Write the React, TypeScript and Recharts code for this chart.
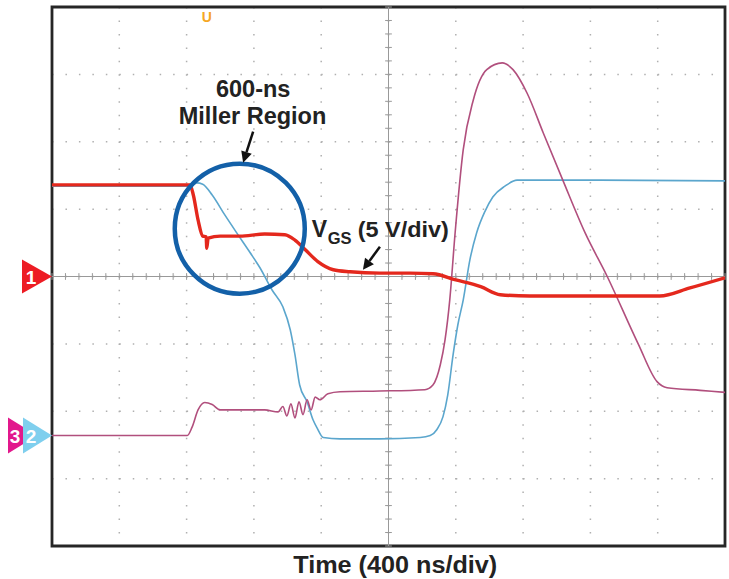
import React from 'react';
import {
  LineChart,
  Line,
  XAxis,
  YAxis,
  CartesianGrid,
  ReferenceLine,
  ReferenceDot,
  ReferenceArea,
} from 'recharts';

// Time in divisions (400 ns/div), amplitude in divisions
const vgsTrace: [number, number][] = [
  [0, 1.36], [1.01, 1.36], [2.05, 1.36], [2.1, 1.21], [2.17, 0.84], [2.24, 0.6],
  [2.29, 0.59], [2.3, 0.42], [2.32, 0.57], [2.5, 0.6], [2.79, 0.6], [3.16, 0.63],
  [3.46, 0.62], [3.61, 0.54], [3.76, 0.4], [3.95, 0.22], [4.18, 0.1], [4.43, 0.07],
  [4.87, 0.05], [5.32, 0.05], [5.66, 0.04], [6.0, -0.05], [6.37, -0.15], [6.66, -0.27],
  [7.1, -0.29], [8.14, -0.29], [9.03, -0.29], [9.48, -0.17], [10, -0.02],
];

const ch2Trace: [number, number][] = [
  [0, 1.34], [2.05, 1.34], [2.15, 1.39], [2.24, 1.37], [2.38, 1.21], [2.57, 0.91],
  [2.75, 0.64], [2.94, 0.36], [3.09, 0.13], [3.27, -0.2], [3.43, -0.45], [3.54, -0.79],
  [3.61, -1.16], [3.68, -1.61], [3.79, -1.86], [3.88, -2.13], [3.94, -2.25], [4.03, -2.39],
  [4.28, -2.41], [4.87, -2.41], [5.47, -2.39], [5.62, -2.36], [5.72, -2.27], [5.81, -2.08],
  [5.88, -1.76], [5.96, -1.16], [6.03, -0.72], [6.11, -0.35], [6.21, 0.25], [6.31, 0.65],
  [6.43, 0.96], [6.55, 1.18], [6.73, 1.34], [6.91, 1.43], [8.14, 1.43], [10, 1.42],
];

const ch3Trace: [number, number][] = [
  [0, -2.36], [2.01, -2.36], [2.08, -2.24], [2.17, -1.98], [2.27, -1.87], [2.38, -1.9],
  [2.5, -1.98], [2.79, -1.98], [3.16, -1.98], [3.36, -2.01], [3.43, -1.93], [3.49, -2.07],
  [3.55, -1.89], [3.61, -2.1], [3.67, -1.86], [3.73, -2.05], [3.79, -1.83], [3.85, -1.98],
  [3.91, -1.79], [3.98, -1.83], [4.1, -1.74], [4.28, -1.71], [4.87, -1.7], [5.54, -1.68],
  [5.66, -1.61], [5.77, -1.31], [5.84, -0.94], [5.91, -0.35], [5.99, 0.65], [6.11, 1.88],
  [6.26, 2.62], [6.46, 3.07], [6.69, 3.17], [6.85, 3.07], [7.06, 2.72], [7.3, 2.13],
  [7.59, 1.43], [7.92, 0.65], [8.25, 0.0], [8.71, -1.0], [8.99, -1.56], [9.14, -1.65],
  [9.63, -1.69], [10, -1.72],
];

const xTicks = [0, 1, 2, 3, 4, 5, 6, 7, 8, 9, 10];
const yTicks = [-4, -3, -2, -1, 0, 1, 2, 3, 4];
const minorX = Array.from({ length: 51 }, (_, i) => i * 0.2);
const minorY = Array.from({ length: 41 }, (_, i) => -4 + i * 0.2);

const toPts = (a: [number, number][]) => a.map(([x, y]) => ({ x, y }));

const FONT = '"Liberation Sans", Arial, Helvetica, sans-serif';

const arrowShape = (dx: number, dy: number) => (p: any) => {
  const { cx, cy } = p;
  const len = Math.sqrt(dx * dx + dy * dy);
  const ux = dx / len;
  const uy = dy / len;
  const hl = 11;
  const hw = 5.5;
  const bx = cx - ux * hl;
  const by = cy - uy * hl;
  return (
    <g>
      <line x1={cx - dx} y1={cy - dy} x2={bx} y2={by} stroke="#111" strokeWidth={2.5} />
      <polygon
        points={`${cx},${cy} ${bx - uy * hw},${by + ux * hw} ${bx + uy * hw},${by - ux * hw}`}
        fill="#111"
      />
    </g>
  );
};

const textShape = (label: string, size: number, anchor: string, color = '#222', len?: number) => (p: any) => (
  <text
    x={p.cx}
    y={p.cy}
    fontFamily={FONT}
    fontWeight="bold"
    fontSize={size}
    fill={color}
    textAnchor={anchor}
    textLength={len}
    lengthAdjust={len ? 'spacingAndGlyphs' : undefined}
  >
    {label}
  </text>
);

const vgsShape = (p: any) => (
  <g fontFamily={FONT} fontWeight="bold" fill="#222">
    <text x={p.cx} y={p.cy} fontSize={23}>V</text>
    <text x={p.cx + 16} y={p.cy + 7} fontSize={16.5}>GS</text>
    <text x={p.cx + 46} y={p.cy} fontSize={22} textLength={91} lengthAdjust="spacingAndGlyphs">(5 V/div)</text>
  </g>
);

const marker1 = (p: any) => (
  <g>
    <polygon points={`${p.cx - 30},${p.cy - 17} ${p.cx},${p.cy} ${p.cx - 30},${p.cy + 17}`} fill="#ed1c24" />
    <text x={p.cx - 21} y={p.cy + 7} fill="#fff" fontFamily={FONT} fontWeight="bold" fontSize={19} textAnchor="middle">1</text>
  </g>
);

const marker23 = (p: any) => (
  <g>
    <polygon points={`${p.cx - 44},${p.cy - 18} ${p.cx - 15},${p.cy} ${p.cx - 44},${p.cy + 18}`} fill="#e2188c" />
    <polygon points={`${p.cx - 29},${p.cy - 18} ${p.cx},${p.cy} ${p.cx - 29},${p.cy + 18}`} fill="#7fcfee" />
    <text x={p.cx - 37} y={p.cy + 7} fill="#fff" fontFamily={FONT} fontWeight="bold" fontSize={19} textAnchor="middle">3</text>
    <text x={p.cx - 21} y={p.cy + 7} fill="#fff" fontFamily={FONT} fontWeight="bold" fontSize={19} textAnchor="middle">2</text>
  </g>
);

export default function App() {
  return (
    <div style={{ position: 'absolute', left: 0, top: 0, width: 729, height: 579, background: '#fff' }}>
      <LineChart width={729} height={579} margin={{ top: 7, right: 4, bottom: 33, left: 52 }}>
        <XAxis dataKey="x" type="number" domain={[0, 10]} ticks={xTicks} hide allowDataOverflow />
        <YAxis type="number" domain={[-4, 4]} ticks={yTicks} hide allowDataOverflow />
        <CartesianGrid stroke="#b0b0b0" strokeWidth={1.5} strokeDasharray="1.5 11.96" />
        <ReferenceLine x={5} stroke="#999" strokeWidth={1} />
        <ReferenceLine y={0} stroke="#999" strokeWidth={1} />
        {minorX.map((v) => (
          <ReferenceLine
            key={'mx' + v}
            segment={[{ x: v, y: -0.05 }, { x: v, y: 0.05 }]}
            stroke="#999"
            strokeWidth={1}
          />
        ))}
        {minorY.map((v) => (
          <ReferenceLine
            key={'my' + v}
            segment={[{ x: 4.95, y: v }, { x: 5.05, y: v }]}
            stroke="#999"
            strokeWidth={1}
          />
        ))}
        <Line data={toPts(ch2Trace)} dataKey="y" type="monotone" stroke="#5ba6cd" strokeWidth={1.6} dot={false} isAnimationActive={false} />
        <Line data={toPts(ch3Trace)} dataKey="y" type="monotone" stroke="#b14f7d" strokeWidth={1.6} dot={false} isAnimationActive={false} />
        <Line data={toPts(vgsTrace)} dataKey="y" type="monotone" stroke="#e4281d" strokeWidth={3.4} dot={false} isAnimationActive={false} />
        <ReferenceArea x1={0} x2={10} y1={-4} y2={4} fill="none" stroke="#262626" strokeWidth={2.8} ifOverflow="visible" />
        <ReferenceDot x={2.79} y={0.71} r={65} fill="none" stroke="#1360a8" strokeWidth={4.5} ifOverflow="visible" />
        <ReferenceDot x={2.99} y={2.66} ifOverflow="visible" shape={textShape('600-ns', 23.5, 'middle')} />
        <ReferenceDot x={2.98} y={2.26} ifOverflow="visible" shape={textShape('Miller Region', 23.5, 'middle')} />
        <ReferenceDot x={3.86} y={0.59} ifOverflow="visible" shape={vgsShape} />
        <ReferenceDot x={2.84} y={1.69} ifOverflow="visible" shape={arrowShape(-10, 31)} />
        <ReferenceDot x={4.62} y={0.1} ifOverflow="visible" shape={arrowShape(-17, 23)} />
        <ReferenceDot x={2.3} y={3.78} ifOverflow="visible" shape={textShape('U', 14, 'middle', '#f5a623')} />
        <ReferenceDot x={5.1} y={-4.4} ifOverflow="visible" shape={textShape('Time (400 ns/div)', 23, 'middle', '#222', 204)} />
        <ReferenceDot x={0} y={0} ifOverflow="visible" shape={marker1} />
        <ReferenceDot x={0} y={-2.36} ifOverflow="visible" shape={marker23} />
      </LineChart>
    </div>
  );
}
